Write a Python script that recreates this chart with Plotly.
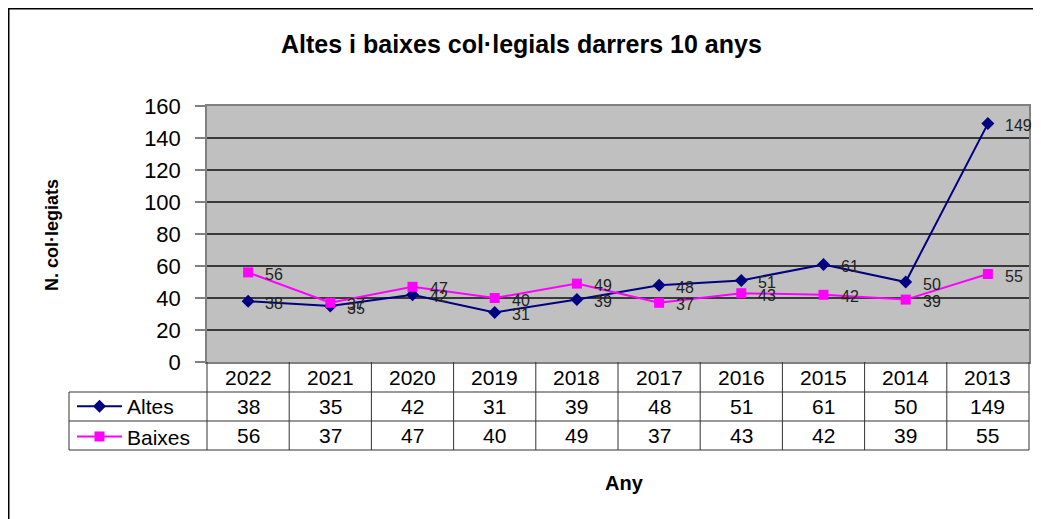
import plotly.graph_objects as go

years = ["2022", "2021", "2020", "2019", "2018", "2017", "2016", "2015", "2014", "2013"]
altes = [38, 35, 42, 31, 39, 48, 51, 61, 50, 149]
baixes = [56, 37, 47, 40, 49, 37, 43, 42, 39, 55]
series_names = ["Altes", "Baixes"]
y_ticks = [0, 20, 40, 60, 80, 100, 120, 140, 160]

W, H = 1041, 519
OFF = 8  # page body margin
L, R, T, B = 207, 1029, 106, 362  # plot area in screenshot pixels
FONT = "Liberation Sans, Arial, sans-serif"


def px_x(px):
    return (px - L) / (R - L)


def px_y(py):
    return (B - py) / (B - T)


n = len(years)
idx = list(range(n))

fig = go.Figure()
fig.add_trace(go.Scatter(
    x=idx, y=altes, name=series_names[0], mode="lines+markers",
    line=dict(color="#000080", width=2),
    marker=dict(symbol="diamond", size=10, color="#000080"),
))
fig.add_trace(go.Scatter(
    x=idx, y=baixes, name=series_names[1], mode="lines+markers",
    line=dict(color="#FF00FF", width=2),
    marker=dict(symbol="square", size=10, color="#FF00FF"),
))

annotations = []
# data labels
for vals in (altes, baixes):
    for i, v in zip(idx, vals):
        annotations.append(dict(
            x=i, y=v, xref="x", yref="y", text=str(v), showarrow=False,
            xanchor="left", yanchor="middle", xshift=15, yshift=-2,
            font=dict(family=FONT, size=16, color="#222222"),
        ))

# table header (years)
for i, yr in zip(idx, years):
    annotations.append(dict(
        x=i, y=px_y(377), xref="x", yref="paper", text=yr, showarrow=False,
        xanchor="center", yanchor="middle",
        font=dict(family=FONT, size=21, color="#000000"),
    ))
# table values
row_centers = [406.5, 435.5]
for vals, rc in zip((altes, baixes), row_centers):
    for i, v in zip(idx, vals):
        annotations.append(dict(
            x=i, y=px_y(rc), xref="x", yref="paper", text=str(v), showarrow=False,
            xanchor="center", yanchor="middle",
            font=dict(family=FONT, size=21, color="#000000"),
        ))

# titles
annotations.append(dict(
    x=px_x(521), y=px_y(44), xref="paper", yref="paper",
    text="<b>Altes i baixes col·legials darrers 10 anys</b>", showarrow=False,
    xanchor="center", yanchor="middle", font=dict(family=FONT, size=25, color="#000000"),
))
annotations.append(dict(
    x=px_x(52), y=px_y(235), xref="paper", yref="paper",
    text="<b>N. col·legiats</b>", showarrow=False, textangle=-90,
    xanchor="center", yanchor="middle", font=dict(family=FONT, size=18, color="#000000"),
))
annotations.append(dict(
    x=px_x(624), y=px_y(483), xref="paper", yref="paper",
    text="<b>Any</b>", showarrow=False,
    xanchor="center", yanchor="middle", font=dict(family=FONT, size=20, color="#000000"),
))

shapes = []
lc = "#333333"
colw = (R - L) / n
for py in (392, 421, 450):
    shapes.append(dict(type="line", xref="paper", yref="paper",
                       x0=px_x(69), x1=px_x(R), y0=px_y(py), y1=px_y(py),
                       line=dict(color=lc, width=1)))
for i in range(n + 1):
    shapes.append(dict(type="line", xref="paper", yref="paper",
                       x0=px_x(L + i * colw), x1=px_x(L + i * colw), y0=px_y(B), y1=px_y(450),
                       line=dict(color=lc, width=1)))
shapes.append(dict(type="line", xref="paper", yref="paper",
                   x0=px_x(69), x1=px_x(69), y0=px_y(392), y1=px_y(450),
                   line=dict(color=lc, width=1)))
# outer frame (left and top)
shapes.append(dict(type="line", xref="paper", yref="paper",
                   x0=px_x(8.75), x1=px_x(8.75), y0=px_y(8), y1=px_y(H + 20),
                   line=dict(color="#000000", width=1.5)))
shapes.append(dict(type="line", xref="paper", yref="paper",
                   x0=px_x(8), x1=px_x(W + 20), y0=px_y(8.75), y1=px_y(8.75),
                   line=dict(color="#000000", width=1.5)))

fig.update_layout(
    width=W, height=H,
    margin=dict(l=L - OFF, r=W - (R - OFF), t=T - OFF, b=H - (B - OFF), autoexpand=False),
    paper_bgcolor="#FFFFFF", plot_bgcolor="#C0C0C0",
    font=dict(family=FONT, color="#000000"),
    showlegend=True,
    legend=dict(
        x=px_x(72), y=px_y(386), xanchor="left", yanchor="top",
        bgcolor="rgba(0,0,0,0)", font=dict(family=FONT, size=21),
        tracegroupgap=0, itemwidth=45, valign="middle",
    ),
    annotations=annotations,
    shapes=shapes,
)
fig.update_xaxes(
    range=[-0.5, n - 0.5], showgrid=False, ticks="", showline=True,
    linecolor="#808080", linewidth=1.5, mirror=True, showticklabels=False,
    zeroline=False,
)
fig.update_yaxes(
    range=[0, 160], tickvals=y_ticks, showgrid=True, gridcolor="#3a3a3a", gridwidth=1.5,
    ticks="outside", ticklen=10, tickcolor="#808080", tickwidth=1.5,
    showline=True, linecolor="#808080", linewidth=1.5, mirror=True,
    tickfont=dict(family=FONT, size=22, color="#000000"), ticklabelstandoff=10,
    zeroline=False,
)

fig.write_html("out.html")
